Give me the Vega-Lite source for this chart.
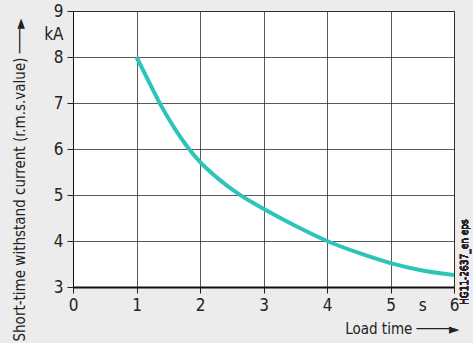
{
  "$schema": "https://vega.github.io/schema/vega-lite/v6.json",
  "width": 381,
  "height": 276,
  "autosize": {"type": "none"},
  "padding": {"left": 73, "top": 11, "right": 19, "bottom": 56},
  "background": "#ececec",
  "config": {
    "view": {"fill": "white", "stroke": "#222", "strokeWidth": 1},
    "font": "Liberation Sans Narrow, DejaVu Sans Condensed, Roboto",
    "axis": {
      "gridColor": "#333",
      "gridOpacity": 0.9,
      "gridWidth": 1,
      "tickColor": "#222",
      "tickSize": 6,
      "domainColor": "#111",
      "labelColor": "#222",
      "labelFontSize": 17,
      "labelFont": "Liberation Sans Narrow, DejaVu Sans Condensed, Roboto",
      "titleFont": "Liberation Sans Narrow, DejaVu Sans Condensed, Roboto",
      "titleFontWeight": "normal",
      "titleColor": "#222"
    }
  },
  "data": {
    "values": [
      {"t": 1.0, "i": 8.0},
      {"t": 1.2, "i": 7.45},
      {"t": 1.4, "i": 6.91},
      {"t": 1.6, "i": 6.45},
      {"t": 1.8, "i": 6.05},
      {"t": 2.0, "i": 5.72},
      {"t": 2.3, "i": 5.34},
      {"t": 2.6, "i": 5.03},
      {"t": 3.0, "i": 4.7},
      {"t": 3.5, "i": 4.33},
      {"t": 4.0, "i": 4.0},
      {"t": 4.5, "i": 3.74},
      {"t": 5.0, "i": 3.52},
      {"t": 5.5, "i": 3.36},
      {"t": 6.0, "i": 3.26}
    ]
  },
  "layer": [
    {
      "mark": {"type": "line", "color": "#2ec4b9", "strokeWidth": 4, "interpolate": "monotone", "clip": true},
      "encoding": {
        "x": {
          "field": "t", "type": "quantitative",
          "scale": {"domain": [0, 6], "nice": false, "zero": false},
          "axis": {
            "values": [0, 1, 2, 3, 4, 5, 5.5, 6],
            "tickCount": 30,
            "labelExpr": "datum.value == 5.5 ? 's' : format(datum.value, 'd')",
            "labelOverlap": false,
            "labelFlush": false,
            "tickOpacity": {"condition": {"test": "datum.value == 5.5", "value": 0}, "value": 1},
            "gridOpacity": {"condition": {"test": "datum.value == 5.5", "value": 0}, "value": 0.9},
            "labelPadding": 4,
            "domainWidth": 2,
            "title": "Load time  \u2500\u2500\u2500\u2500\u25ba",
            "titleFontSize": 15,
            "titleAnchor": "end",
            "titleAlign": "right",
            "titleBaseline": "middle",
            "titleX": 386,
            "titleY": 41
          }
        },
        "y": {
          "field": "i", "type": "quantitative",
          "scale": {"domain": [3, 9], "nice": false, "zero": false},
          "axis": {
            "values": [3, 4, 5, 6, 7, 8, 8.5, 9],
            "tickCount": 30,
            "labelExpr": "datum.value == 8.5 ? 'kA' : format(datum.value, 'd')",
            "labelOverlap": false,
            "labelFlush": false,
            "tickOpacity": {"condition": {"test": "datum.value == 8.5", "value": 0}, "value": 1},
            "gridOpacity": {"condition": {"test": "datum.value == 8.5", "value": 0}, "value": 0.9},
            "labelPadding": 4,
            "title": "Short-time withstand current (r.m.s.value)  \u2500\u2500\u2500\u25ba",
            "titleFontSize": 15,
            "titleAnchor": "start",
            "titleAlign": "left",
            "titleBaseline": "alphabetic",
            "titleAngle": -90,
            "titleX": -49,
            "titleY": 330
          }
        }
      }
    },
    {
      "mark": {"type": "text", "angle": -90, "fontSize": 10, "color": "#222", "clip": false},
      "encoding": {
        "x": {"datum": 6.17, "type": "quantitative"},
        "y": {"datum": 3.54, "type": "quantitative"},
        "text": {"value": "HG11-2637_en eps"}
      }
    }
  ]
}
